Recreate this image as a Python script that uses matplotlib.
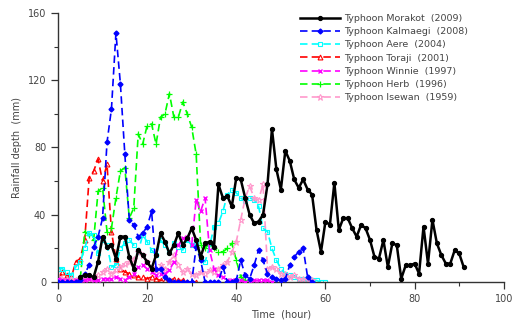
import numpy as np
import matplotlib
matplotlib.use("Agg")
import matplotlib.pyplot as plt
from matplotlib.ticker import MultipleLocator

# hourly rainfall depth (mm)
morakot_t = list(range(5, 92))
morakot = [3, 4, 4, 3, 12, 27, 21, 22, 14, 27, 27, 15, 8, 19, 16, 12, 8, 16, 29, 24,
           17, 22, 29, 22, 26, 32, 25, 15, 23, 24, 21, 58, 50, 51, 45, 62, 61, 50, 40, 35,
           36, 40, 58, 91, 67, 55, 78, 72, 61, 56, 61, 55, 52, 31, 18, 36, 34, 59, 31, 38,
           38, 32, 27, 34, 32, 25, 15, 14, 25, 9, 23, 22, 2, 10, 10, 11, 5, 33, 11, 37,
           23, 16, 11, 11, 19, 17, 9]

kalmaegi_t = list(range(0, 58))
kalmaegi = [0, 0, 0, 0, 0, 1, 5, 10, 21, 27, 38, 83, 103, 148, 118, 76, 37, 34, 27, 29,
            33, 42, 8, 8, 3, 1, 0, 0, 0, 0, 0, 21, 13, 0, 0, 0, 0, 9, 0, 0,
            1, 13, 4, 2, 10, 19, 13, 5, 3, 2, 1, 2, 10, 15, 18, 20, 3, 0]

aere_t = list(range(0, 61))
aere = [8, 8, 6, 4, 9, 12, 20, 29, 28, 17, 25, 22, 9, 10, 20, 23, 25, 22, 18, 28,
        24, 19, 16, 25, 22, 18, 23, 21, 19, 25, 22, 24, 14, 12, 21, 33, 35, 42, 52, 55,
        53, 50, 48, 50, 49, 45, 32, 30, 20, 13, 8, 5, 4, 3, 2, 2, 1, 1, 1, 0, 0]

toraji_t = list(range(0, 32))
toraji = [1, 6, 4, 3, 12, 14, 25, 62, 66, 73, 60, 70, 30, 14, 8, 6, 5, 4, 3, 3,
          2, 3, 2, 1, 1, 1, 2, 1, 1, 0, 0, 0]

winnie_t = list(range(0, 49))
winnie = [2, 1, 1, 0, 1, 1, 1, 2, 1, 1, 2, 2, 2, 3, 2, 1, 3, 5, 9, 10,
          8, 6, 4, 5, 5, 7, 12, 22, 26, 27, 22, 49, 42, 50, 19, 8, 4, 3, 1, 1,
          1, 1, 0, 0, 1, 1, 1, 1, 0]

herb_t = list(range(0, 44))
herb = [0, 0, 0, 0, 0, 2, 30, 28, 25, 54, 56, 30, 32, 50, 66, 68, 38, 44, 88, 82,
        93, 94, 82, 98, 100, 112, 98, 98, 107, 100, 92, 76, 22, 20, 23, 20, 18, 18, 20, 23,
        13, 3, 1, 0]

isewan_t = list(range(0, 58))
isewan = [3, 2, 1, 2, 1, 2, 1, 2, 3, 4, 6, 8, 5, 7, 9, 11, 12, 14, 18, 16,
          12, 9, 7, 10, 8, 12, 16, 10, 6, 8, 5, 4, 6, 5, 7, 6, 8, 10, 12, 18,
          24, 37, 50, 57, 50, 49, 58, 8, 9, 8, 5, 5, 3, 4, 2, 2, 1, 1]

fig = plt.figure(figsize=(5.13, 3.22), dpi=100)
ax = fig.add_axes([0.113, 0.124, 0.869, 0.836])

dash = (0, (4.5, 2.5))
ax.plot(toraji_t, toraji, color='#FF0000', ls=dash, lw=1.2, marker='^', ms=3.5,
        mfc='none', mew=0.8, label='Typhoon Toraji  (2001)', zorder=2)
ax.plot(herb_t, herb, color='#00FF00', ls=dash, lw=1.2, marker='+', ms=4,
        mew=0.9, label='Typhoon Herb  (1996)', zorder=2)
ax.plot(aere_t, aere, color='#00FFFF', ls=dash, lw=1.2, marker='s', ms=3.5,
        mfc='none', mew=0.8, label='Typhoon Aere  (2004)', zorder=2)
ax.plot(isewan_t, isewan, color='#FF99CC', ls=dash, lw=1.2, marker='*', ms=5,
        mfc='none', mew=0.8, label='Typhoon Isewan  (1959)', zorder=2)
ax.plot(winnie_t, winnie, color='#FF00FF', ls=dash, lw=1.2, marker='x', ms=3.5,
        mew=1.0, label='Typhoon Winnie  (1997)', zorder=3)
ax.plot(kalmaegi_t, kalmaegi, color='#0000FF', ls=dash, lw=1.2, marker='D', ms=2.5,
        label='Typhoon Kalmaegi  (2008)', zorder=3)
ax.plot(morakot_t, morakot, color='black', ls='-', lw=1.8, marker='o', ms=2.8,
        label='Typhoon Morakot  (2009)', zorder=4)

ax.set_xlim(0, 100)
ax.set_ylim(0, 160)
ax.xaxis.set_major_locator(MultipleLocator(20))
ax.xaxis.set_minor_locator(MultipleLocator(10))
ax.yaxis.set_major_locator(MultipleLocator(40))
ax.yaxis.set_minor_locator(MultipleLocator(20))
for side in ['top', 'right']:
    ax.spines[side].set_visible(False)
for side in ['left', 'bottom']:
    ax.spines[side].set_color('#333333')
    ax.spines[side].set_linewidth(1.0)
ax.tick_params(which='major', direction='out', length=5, width=0.9, colors='#333333',
               labelsize=7, labelcolor='#444444')
ax.tick_params(which='minor', direction='out', length=3, width=0.8, colors='#333333')
ax.set_xlabel('Time  (hour)', fontsize=7, color='#444444', labelpad=4)
ax.set_ylabel('Rainfall depth  (mm)', fontsize=7, color='#444444', labelpad=4)

handles, labels = ax.get_legend_handles_labels()
order = ['Typhoon Morakot  (2009)', 'Typhoon Kalmaegi  (2008)', 'Typhoon Aere  (2004)',
         'Typhoon Toraji  (2001)', 'Typhoon Winnie  (1997)', 'Typhoon Herb  (1996)',
         'Typhoon Isewan  (1959)']
hmap = dict(zip(labels, handles))
ax.legend([hmap[k] for k in order], order, loc='upper left', bbox_to_anchor=(0.535, 1.01),
          frameon=False, fontsize=6.8, handlelength=4.2, handletextpad=0.4,
          labelspacing=0.45, borderaxespad=0, labelcolor='#444444')

fig.savefig('out.png', dpi=100)
